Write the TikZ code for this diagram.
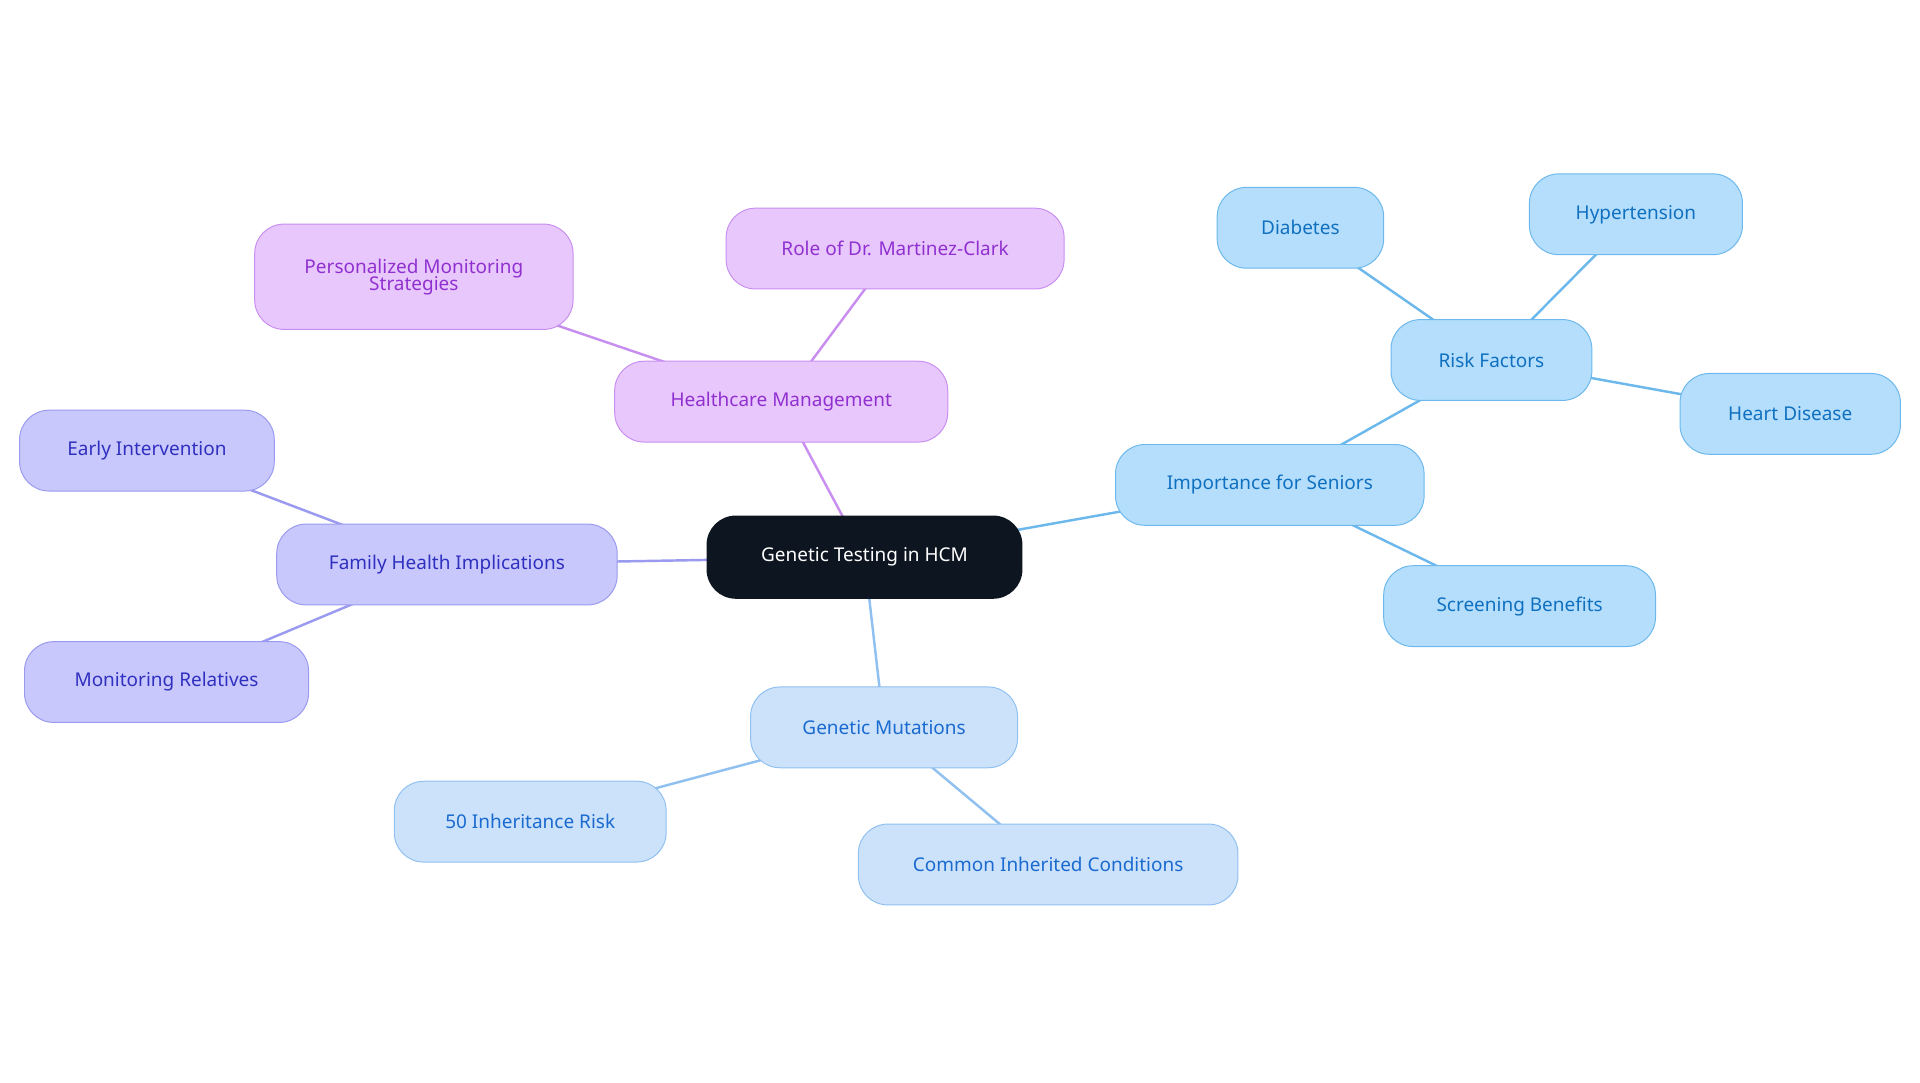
\documentclass[tikz,border=0pt]{standalone}
\usepackage{fontspec}
\setmainfont{Noto Sans}
\usetikzlibrary{backgrounds}
\definecolor{rootfill}{HTML}{0D1520}
\definecolor{hmfill}{HTML}{E8C8FC}\definecolor{hmdraw}{HTML}{C88EF0}\definecolor{hmtext}{HTML}{9030D0}
\definecolor{fhfill}{HTML}{C8C8FC}\definecolor{fhdraw}{HTML}{9A9AF0}\definecolor{fhtext}{HTML}{3030C0}
\definecolor{gmfill}{HTML}{CCE2FA}\definecolor{gmdraw}{HTML}{90C0F0}\definecolor{gmtext}{HTML}{1A6AD0}
\definecolor{isfill}{HTML}{B4DEFC}\definecolor{isdraw}{HTML}{6CB8EC}\definecolor{istext}{HTML}{1070C0}
\begin{document}
\begin{tikzpicture}[x=1pt,y=-1pt,
    every node/.style={font=\fontsize{15.5}{17}\selectfont},
    box/.style={rounded corners=24pt,minimum height=66pt,align=center,line width=0.8pt},
    hm/.style={box,fill=hmfill,draw=hmdraw,text=hmtext},
    fh/.style={box,fill=fhfill,draw=fhdraw,text=fhtext},
    gm/.style={box,fill=gmfill,draw=gmdraw,text=gmtext},
    is/.style={box,fill=isfill,draw=isdraw,text=istext},
    link/.style={line width=2pt}
  ]
  \useasboundingbox (0,0) rectangle (1568,884);
  \node[box,fill=rootfill,text=white,minimum width=258pt,minimum height=68pt] (root) at (706,455) {Genetic Testing in HCM};
  % healthcare management
  \node[hm,minimum width=272pt] (hcm) at (638,328) {Healthcare Management};
  \node[hm,minimum width=260pt,minimum height=86pt] (pms) at (338,226) {Personalized Monitoring\\[-3pt]Strategies};
  \node[hm,minimum width=276pt] (role) at (731,203) {Role of Dr. Martinez-Clark};
  % family health
  \node[fh,minimum width=278pt] (fhi) at (365,461) {Family Health Implications};
  \node[fh,minimum width=208pt] (early) at (120,368) {Early Intervention};
  \node[fh,minimum width=232pt] (monrel) at (136,557) {Monitoring Relatives};
  % genetic mutations
  \node[gm,minimum width=218pt] (gmut) at (722,594) {Genetic Mutations};
  \node[gm,minimum width=222pt] (inh) at (433,671) {50 Inheritance Risk};
  \node[gm,minimum width=310pt] (cic) at (856,706) {Common Inherited Conditions};
  % seniors
  \node[is,minimum width=252pt] (seniors) at (1037,396) {Importance for Seniors};
  \node[is,minimum width=164pt] (risk) at (1218,294) {Risk Factors};
  \node[is,minimum width=136pt] (diab) at (1062,186) {Diabetes};
  \node[is,minimum width=174pt] (hyper) at (1336,175) {Hypertension};
  \node[is,minimum width=180pt] (heart) at (1462,338) {Heart Disease};
  \node[is,minimum width=222pt] (screen) at (1241,495) {Screening Benefits};
  \begin{scope}[on background layer]
    \draw[link,hmdraw] (root.center) -- (hcm.center) (hcm.center) -- (pms.center) (hcm.center) -- (role.center);
    \draw[link,fhdraw] (root.center) -- (fhi.center) (fhi.center) -- (early.center) (fhi.center) -- (monrel.center);
    \draw[link,gmdraw] (root.center) -- (gmut.center) (gmut.center) -- (inh.center) (gmut.center) -- (cic.center);
    \draw[link,isdraw] (root.center) -- (seniors.center) (seniors.center) -- (risk.center) (seniors.center) -- (screen.center)
      (risk.center) -- (diab.center) (risk.center) -- (hyper.center) (risk.center) -- (heart.center);
  \end{scope}
\end{tikzpicture}
\end{document}
